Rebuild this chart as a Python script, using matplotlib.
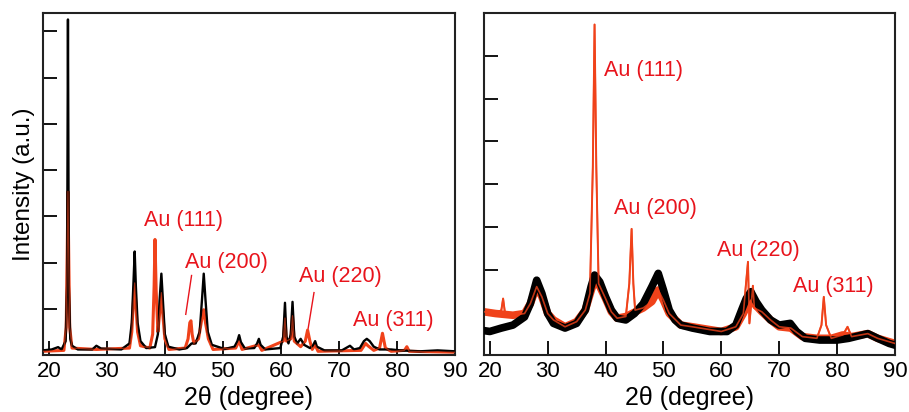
import matplotlib
matplotlib.use("Agg")
import matplotlib.pyplot as plt

plt.rcParams['font.family'] = ['Liberation Sans', 'DejaVu Sans']

# ---------------- data: left panel ----------------
left_black_x = [19.0, 20.5, 21.6, 22.2, 22.9, 23.15, 23.3, 23.45, 23.7, 24.0, 25.0, 27.5, 28.2, 29.0, 32.5,
                33.9, 34.3, 34.6, 34.8, 35.0, 35.3, 35.8, 36.8, 38.3, 38.8, 39.1, 39.4, 39.7, 40.0, 40.6,
                42.5, 43.8, 44.6, 45.3, 46.0, 46.4, 46.7, 47.0, 47.4, 48.1, 50.3, 52.0, 52.5, 52.8, 53.1,
                53.8, 55.4, 55.9, 56.2, 56.5, 57.3, 59.9, 60.4, 60.7, 60.95, 61.3, 61.7, 62.0, 62.3, 62.8,
                63.4, 64.0, 65.0, 65.5, 65.9, 66.2, 67.5, 70.5, 71.9, 72.6, 73.6, 74.3, 74.8, 75.3, 76.0,
                77.0, 79.0, 80.5, 84.0, 87.0, 90.0]
left_black_y = [0.10, 0.12, 0.17, 0.12, 0.30, 1.50, 7.26, 1.50, 0.35, 0.20, 0.12, 0.12, 0.20, 0.14, 0.12,
                0.25, 0.70, 1.60, 2.24, 1.50, 0.70, 0.30, 0.15, 0.17, 0.45, 1.20, 1.76, 1.10, 0.45, 0.18,
                0.12, 0.15, 0.25, 0.25, 0.50, 1.20, 1.76, 1.20, 0.50, 0.22, 0.13, 0.18, 0.30, 0.43, 0.28,
                0.14, 0.15, 0.25, 0.35, 0.22, 0.12, 0.15, 0.40, 1.13, 0.40, 0.25, 0.45, 1.15, 0.40, 0.25,
                0.35, 0.22, 0.15, 0.20, 0.30, 0.18, 0.10, 0.10, 0.20, 0.12, 0.15, 0.30, 0.35, 0.30, 0.18,
                0.12, 0.12, 0.10, 0.08, 0.10, 0.08]

left_red_x = [19.0, 22.6, 23.0, 23.15, 23.3, 23.45, 23.6, 24.0, 28.2, 33.9, 34.3, 34.6, 34.8, 35.0, 35.3,
              35.8, 37.4, 37.9, 38.15, 38.3, 38.5, 38.8, 39.1, 39.4, 39.7, 40.0, 40.7, 43.5, 44.0, 44.3,
              44.5, 44.7, 45.0, 45.8, 46.4, 46.7, 47.0, 47.5, 48.3, 52.2, 52.8, 53.3, 56.2, 56.7, 60.4,
              60.7, 60.95, 61.7, 62.0, 62.3, 63.4, 64.2, 64.6, 65.0, 65.4, 65.9, 66.4, 73.8, 74.6, 75.0,
              76.0, 77.0, 77.5, 78.0, 79.0, 81.3, 81.7, 82.1, 90.0]
left_red_y = [0.08, 0.10, 0.60, 2.00, 3.54, 2.00, 0.60, 0.15, 0.12, 0.15, 0.50, 1.20, 1.56, 1.10, 0.50,
              0.20, 0.15, 0.45, 1.50, 2.50, 1.40, 0.50, 0.90, 1.35, 0.80, 0.35, 0.12, 0.15, 0.35, 0.70,
              0.74, 0.45, 0.25, 0.35, 0.80, 0.98, 0.70, 0.35, 0.12, 0.15, 0.30, 0.12, 0.22, 0.10, 0.30,
              0.80, 0.30, 0.35, 0.85, 0.30, 0.18, 0.30, 0.54, 0.30, 0.12, 0.22, 0.08, 0.10, 0.25, 0.20,
              0.10, 0.15, 0.47, 0.15, 0.08, 0.10, 0.18, 0.08, 0.06]

# ---------------- data: right panel ----------------
right_black_x = [19.0, 20.0, 22.0, 24.0, 26.0, 27.0, 28.1, 29.0, 30.0, 31.0, 33.0, 35.0, 36.5, 37.5, 38.1,
                 39.0, 40.0, 41.0, 42.0, 43.5, 45.0, 46.5, 48.0, 49.1, 50.0, 51.0, 52.0, 53.0, 55.0, 58.0,
                 61.0, 62.5, 63.5, 64.3, 65.1, 66.0, 67.0, 68.5, 70.0, 71.9, 73.0, 74.5, 77.0, 80.0, 82.0,
                 85.3, 87.0, 89.0, 90.0]
right_black_y = [0.57, 0.55, 0.63, 0.70, 0.89, 1.20, 1.75, 1.44, 0.97, 0.74, 0.63, 0.74, 1.05, 1.60, 1.87,
                 1.71, 1.36, 1.05, 0.86, 0.82, 0.97, 1.20, 1.60, 1.91, 1.52, 1.05, 0.82, 0.70, 0.63, 0.55,
                 0.55, 0.70, 1.05, 1.32, 1.48, 1.25, 1.05, 0.82, 0.70, 0.74, 0.55, 0.39, 0.35, 0.35, 0.39,
                 0.50, 0.39, 0.27, 0.23]

# red background band (broad features only)
right_red_bg_x = [19.0, 21.0, 24.0, 26.0, 27.0, 28.1, 29.0, 30.0, 31.0, 33.0, 35.0, 36.5, 37.5, 38.1, 39.0,
                  40.0, 41.0, 42.0, 43.5, 45.0, 46.5, 48.0, 49.1, 50.0, 51.0, 53.0, 55.0, 60.0, 62.5, 63.8,
                  65.0, 66.0, 67.0, 68.5, 70.0, 72.0, 74.0, 76.5, 79.0, 81.0, 82.5, 85.3, 87.0, 90.0]
right_red_bg_y = [1.01, 0.97, 0.93, 0.97, 1.20, 1.60, 1.36, 0.97, 0.82, 0.66, 0.78, 1.05, 1.50, 1.75, 1.60,
                  1.32, 1.01, 0.86, 0.90, 1.00, 1.10, 1.25, 1.52, 1.28, 0.97, 0.70, 0.66, 0.55, 0.66, 0.97,
                  1.30, 1.15, 1.01, 0.82, 0.66, 0.63, 0.43, 0.39, 0.39, 0.47, 0.43, 0.50, 0.39, 0.27]

# red full trace (with sharp Au reflections)
right_red_x = [19.0, 21.0, 22.0, 22.3, 22.6, 24.0, 26.0, 27.0, 28.1, 29.0, 30.0, 31.0, 33.0, 35.0, 36.5,
               37.3, 37.8, 38.1, 38.4, 38.8, 40.0, 41.0, 42.0, 43.5, 44.1, 44.5, 44.8, 45.1, 46.5, 48.0,
               49.1, 50.0, 51.0, 53.0, 55.0, 60.0, 62.5, 63.8, 64.6, 64.85, 65.45, 65.7, 67.0, 68.5, 70.0,
               72.0, 74.0, 76.5, 77.3, 77.7, 78.1, 79.0, 81.0, 81.8, 82.5, 85.3, 87.0, 90.0]
right_red_y = [1.01, 0.97, 1.05, 1.32, 1.01, 0.93, 0.97, 1.20, 1.60, 1.36, 0.97, 0.82, 0.66, 0.78, 1.05,
               1.44, 4.40, 7.73, 4.40, 1.67, 1.32, 1.01, 0.86, 0.90, 1.67, 2.95, 1.67, 1.05, 1.10, 1.25,
               1.52, 1.28, 0.97, 0.70, 0.66, 0.55, 0.66, 0.97, 2.18, 0.74, 1.62, 1.10, 1.01, 0.82, 0.66,
               0.63, 0.43, 0.39, 0.70, 1.36, 0.70, 0.39, 0.47, 0.66, 0.43, 0.50, 0.39, 0.27]

# annotations
left_labels = ["Au (111)", "Au (200)", "Au (220)", "Au (311)"]
left_label_x = [43.2, 50.6, 70.2, 79.4]
left_label_y = [2.9, 2.0, 1.69, 0.74]
left_pointer_from = [(44.6, 1.72), (65.7, 1.35)]
left_pointer_to = [(43.6, 0.88), (64.7, 0.58)]

right_labels = ["Au (111)", "Au (200)", "Au (220)", "Au (311)"]
right_label_x = [46.6, 48.7, 66.4, 79.4]
right_label_y = [6.66, 3.43, 2.44, 1.6]

xticks = [20, 30, 40, 50, 60, 70, 80, 90]

RED_LINE = '#f0421a'
RED_TEXT = '#e8141c'

fig = plt.figure(figsize=(9.09, 4.12), dpi=100)
axL = fig.add_axes([43/909, 57/412, 412/909, 342/412])
axR = fig.add_axes([484/909, 57/412, 411/909, 342/412])

# left panel curves
axL.plot(left_red_x, left_red_y, color=RED_LINE, lw=2.2, zorder=2, solid_joinstyle='round')
axL.plot(left_black_x, left_black_y, color='black', lw=1.7, zorder=3, solid_joinstyle='round')
axL.plot(left_red_x, left_red_y, color=RED_LINE, lw=0.9, zorder=4, alpha=0.6)

for lab, x, y in zip(left_labels, left_label_x, left_label_y):
    axL.text(x, y, lab, color=RED_TEXT, fontsize=15.5, ha='center', va='center', zorder=5)
for (x0, y0), (x1, y1) in zip(left_pointer_from, left_pointer_to):
    axL.plot([x0, x1], [y0, y1], color=RED_TEXT, lw=1.0, zorder=5)

axL.set_xlim(19, 90)
axL.set_ylim(0, 7.4)
axL.set_yticks([1, 2, 3, 4, 5, 6, 7])
axL.set_yticklabels([])
axL.set_ylabel("Intensity (a.u.)", fontsize=17.5, labelpad=2)

# right panel curves
axR.plot(right_red_bg_x, right_red_bg_y, color=RED_LINE, lw=5.5, zorder=2, solid_joinstyle='round')
axR.plot(right_red_x, right_red_y, color=RED_LINE, lw=1.4, zorder=2.5)
axR.plot(right_black_x, right_black_y, color='black', lw=5.5, zorder=3, solid_joinstyle='round')
axR.plot(right_red_x, right_red_y, color=RED_LINE, lw=1.2, zorder=4, alpha=0.8)

for lab, x, y in zip(right_labels, right_label_x, right_label_y):
    axR.text(x, y, lab, color=RED_TEXT, fontsize=15.5, ha='center', va='center', zorder=5)

axR.set_xlim(19, 90)
axR.set_ylim(0, 8.0)
axR.set_yticks([1, 2, 3, 4, 5, 6, 7])
axR.set_yticklabels([])

for ax in (axL, axR):
    ax.set_xticks(xticks)
    ax.set_xticklabels([str(t) for t in xticks])
    ax.tick_params(axis='both', direction='in', length=10, width=1.3, labelsize=16, pad=4,
                   colors='black')
    ax.set_xlabel("2θ (degree)", fontsize=18, labelpad=3)
    for s in ax.spines.values():
        s.set_linewidth(1.5)
        s.set_color('#222222')

fig.savefig("out.png", dpi=100)
